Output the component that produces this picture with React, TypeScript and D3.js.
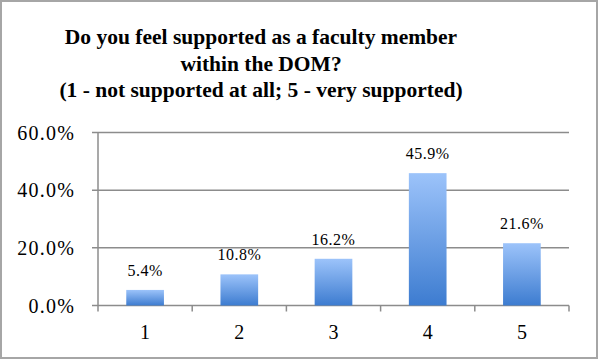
import React from "react";
import * as d3 from "d3";

const categories = ["1", "2", "3", "4", "5"];
const values = [0.054, 0.108, 0.162, 0.459, 0.216];
const valueLabels = ["5.4%", "10.8%", "16.2%", "45.9%", "21.6%"];
const yTicks = [0, 0.2, 0.4, 0.6];
const titleLines = [
  "Do you feel supported as a faculty member",
  "within the DOM?",
  "(1 - not supported at all; 5 - very supported)",
];

const W = 598;
const H = 360;
const font = "'Liberation Serif', 'DejaVu Serif', serif";

export default function App() {
  const x = d3
    .scaleBand<string>()
    .domain(categories)
    .range([98, 569])
    .paddingInner(0.6)
    .paddingOuter(0.3);
  const y = d3.scaleLinear().domain([0, 0.6]).range([305.5, 132.5]);
  const step = x.step();
  const tickXs = d3.range(categories.length + 1).map((i) => 98 + i * step);

  return (
    <svg
      width={W}
      height={H}
      style={{ position: "absolute", left: 0, top: 0, background: "#fff" }}
    >
      <defs>
        <linearGradient id="barGrad" x1="0" y1="0" x2="0" y2="1">
          <stop offset="0%" stopColor="#9cc3fa" />
          <stop offset="100%" stopColor="#3d7cd0" />
        </linearGradient>
      </defs>
      <rect x={1} y={1} width={W - 2} height={H - 3} fill="#fff" stroke="#a6a6a6" strokeWidth={2} />
      {titleLines.map((t, i) => (
        <text
          key={i}
          x={261}
          y={44 + i * 26.5}
          textAnchor="middle"
          fontFamily={font}
          fontWeight="bold"
          fontSize={21.5}
          fill="#000"
        >
          {t}
        </text>
      ))}
      {yTicks.map((t) => (
        <g key={t}>
          <line x1={92} x2={569} y1={y(t)} y2={y(t)} stroke="#8c8c8c" strokeWidth={1.5} />
          <text
            x={75}
            y={y(t) + 7}
            textAnchor="end"
            fontFamily={font}
            fontSize={20}
            letterSpacing={1.2}
            fill="#000"
          >
            {d3.format(".1%")(t)}
          </text>
        </g>
      ))}
      <line x1={98} x2={98} y1={y(0.6)} y2={y(0)} stroke="#8c8c8c" strokeWidth={1.5} />
      {tickXs.map((tx, i) => (
        <line key={i} x1={tx} x2={tx} y1={y(0)} y2={y(0) + 6} stroke="#8c8c8c" strokeWidth={1.5} />
      ))}
      {categories.map((c, i) => (
        <g key={c}>
          <rect
            x={x(c)}
            y={y(values[i])}
            width={x.bandwidth()}
            height={y(0) - y(values[i])}
            fill="url(#barGrad)"
          />
          <text
            x={(x(c) as number) + x.bandwidth() / 2}
            y={y(values[i]) - 14}
            textAnchor="middle"
            fontFamily={font}
            fontSize={16}
            letterSpacing={0.5}
            fill="#000"
          >
            {valueLabels[i]}
          </text>
          <text
            x={(x(c) as number) + x.bandwidth() / 2}
            y={339}
            textAnchor="middle"
            fontFamily={font}
            fontSize={20}
            fill="#000"
          >
            {c}
          </text>
        </g>
      ))}
    </svg>
  );
}
